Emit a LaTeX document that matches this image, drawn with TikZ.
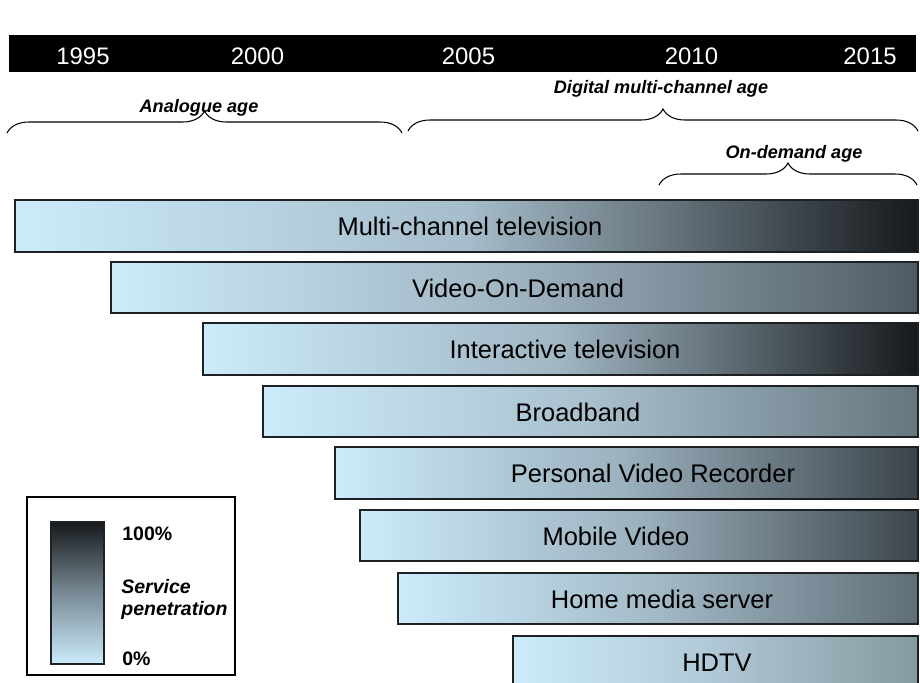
\documentclass[tikz,border=0pt]{standalone}
\usepackage{fontspec}
\setmainfont{Liberation Sans}
\usetikzlibrary{decorations.pathreplacing}
\definecolor{lightsky}{HTML}{CCEBFB}
\definecolor{barline}{HTML}{1E2124}
\definecolor{nearblack}{HTML}{16191C}
\begin{document}
\begin{tikzpicture}[x=0.02cm,y=-0.02cm,
    yearlabel/.style={text=white, font=\fontsize{13.6}{15}\selectfont, anchor=base, inner sep=0pt},
    agelabel/.style={font=\fontsize{10.3}{12}\selectfont\bfseries\itshape, anchor=base, inner sep=0pt},
    agebrace/.style={decorate, decoration={brace, amplitude=0.44cm}, line width=0.6pt},
    barbox/.style={draw=barline, line width=0.7pt, left color=lightsky},
    barlabel/.style={font=\fontsize{14.5}{16}\selectfont, anchor=base, inner sep=0pt},
    leglabel/.style={font=\fontsize{11.1}{12}\selectfont\bfseries, anchor=base west, inner sep=0pt}]
      \useasboundingbox (0,0) rectangle (920,683);
      \clip (0,0) rectangle (920,683);
      %%%%%%%%%%%%%%%%%%%%%%%%%%%%%%%%%%%%%%%%%%%%%%%
      \fill[black] (9,35) rectangle (916,72);
      \node[yearlabel] at (83,64.5)    (y1) {1995};
      \node[yearlabel] at (257.5,64.5) (y2) {2000};
      \node[yearlabel] at (468.5,64.5) (y3) {2005};
      \node[yearlabel] at (691.5,64.5) (y4) {2010};
      \node[yearlabel] at (870,64.5)   (y5) {2015};
      %%%%%%%%%%%%%%%%%%%%%%%%%%%%%%%%%%%%%%%%%%%%%%%
      \draw[agebrace] (7,133) -- (402,133);
      \draw[agebrace] (408,131) -- (918,131);
      \draw[agebrace] (659,185) -- (917,185);
      \node[agelabel] at (199,112) (a1) {Analogue age};
      \node[agelabel] at (661,93)  (a2) {Digital multi-channel age};
      \node[agelabel] at (794,158) (a3) {On-demand age};
      %%%%%%%%%%%%%%%%%%%%%%%%%%%%%%%%%%%%%%%%%%%%%%%
      \shade[barbox, right color=nearblack, middle color={rgb,255:red,166;green,189;blue,203}] (15,200) rectangle (918,252);
      \shade[barbox, right color={rgb,255:red,78;green,91;blue,100}, middle color={rgb,255:red,159;green,180;blue,193}] (111,262) rectangle (918,313);
      \shade[barbox, right color=nearblack, middle color={rgb,255:red,160;green,182;blue,195}] (203,323) rectangle (918,375);
      \shade[barbox, right color={rgb,255:red,101;green,118;blue,127}, middle color={rgb,255:red,169;green,192;blue,205}] (263,386) rectangle (918,437);
      \shade[barbox, right color={rgb,255:red,58;green,67;blue,73}, middle color={rgb,255:red,154;green,176;blue,189}] (335,447) rectangle (918,499);
      \shade[barbox, right color={rgb,255:red,60;green,69;blue,75}, middle color={rgb,255:red,156;green,177;blue,190}] (360,510) rectangle (918,561);
      \shade[barbox, right color={rgb,255:red,94;green,110;blue,119}, middle color={rgb,255:red,163;green,185;blue,198}] (398,573) rectangle (918,624);
      \shade[barbox, right color={rgb,255:red,133;green,153;blue,159}, middle color={rgb,255:red,176;green,200;blue,214}] (513,636) rectangle (918,700);
      %%%%%%%%%%%%%%%%%%%%%%%%%%%%%%%%%%%%%%%%%%%%%%%
      \node[barlabel] at (470,235.5) (s1) {Multi-channel television};
      \node[barlabel] at (518,297) (s2) {Video-On-Demand};
      \node[barlabel] at (565,358) (s3) {Interactive television};
      \node[barlabel] at (578,421) (s4) {Broadband};
      \node[barlabel] at (653,482) (s5) {Personal Video Recorder};
      \node[barlabel] at (616,545) (s6) {Mobile Video};
      \node[barlabel] at (662,608) (s7) {Home media server};
      \node[barlabel] at (717,671) (s8) {HDTV};
      %%%%%%%%%%%%%%%%%%%%%%%%%%%%%%%%%%%%%%%%%%%%%%%
      \draw[line width=0.75pt] (27,497) rectangle (235,675);
      \shade[draw=barline, line width=0.7pt, bottom color=lightsky, top color=nearblack, middle color={rgb,255:red,120;green,138;blue,149}] (51,522) rectangle (104,664);
      \node[leglabel] at (122,540) (l1) {100\%};
      \node[leglabel] at (121,593) (l2) {\itshape Service};
      \node[leglabel] at (121,615) (l3) {\itshape penetration};
      \node[leglabel] at (122,665) (l4) {0\%};
      %%%%%%%%%%%%%%%%%%%%%%%%%%%%%%%%%%%%%%%%%%%%%%%
    \end{tikzpicture}
\end{document}
